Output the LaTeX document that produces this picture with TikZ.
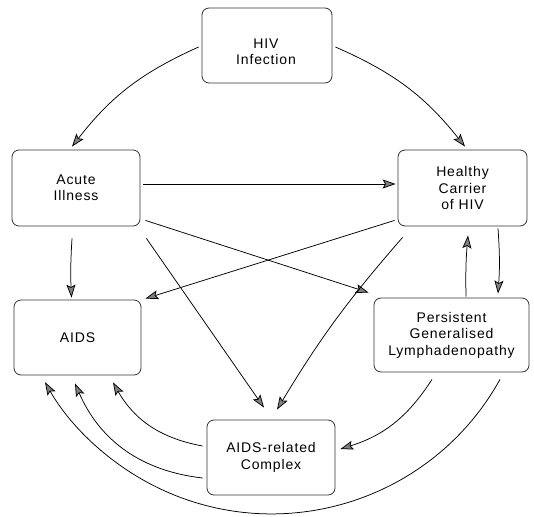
\documentclass[tikz,border=0pt]{standalone}
\usepackage{fontspec}
\setmainfont[LetterSpace=6]{Liberation Sans}
\usetikzlibrary{arrows.meta}
\begin{document}
\begin{tikzpicture}[x=1pt,y=1pt,
  stagebox/.style={draw=black!80, line width=0.8pt, rounded corners=7pt, align=center,
    font=\fontsize{14}{16.5}\selectfont, inner sep=0pt},
  txt/.style={align=center, font=\fontsize{14}{16.5}\selectfont, inner sep=0pt},
  flow/.style={line width=0.75pt, -{Stealth[length=13pt,width=9pt,inset=2.5pt,fill=black!50]}}
]
\useasboundingbox (0,0) rectangle (534,-516);
\fill[white] (0,0) rectangle (534,-516);

% stages
\node[stagebox, minimum width=130pt, minimum height=75pt] (hiv) at (267,-45.5) {};
\node[txt] (hivt) at (266,-52) {HIV\\Infection};
\node[stagebox, minimum width=128pt, minimum height=76pt] (acute) at (76,-188) {Acute\\Illness};
\node[stagebox, minimum width=129pt, minimum height=76pt] (healthy) at (462.5,-188) {Healthy\\Carrier\\of HIV};
\node[stagebox, minimum width=127pt, minimum height=75pt] (aids) at (77.5,-337.5) {AIDS};
\node[stagebox, minimum width=155pt, minimum height=74pt] (pgl) at (451.5,-335) {Persistent\\Generalised\\Lymphadenopathy};
\node[stagebox, minimum width=128pt, minimum height=75pt] (arc) at (271,-457.5) {AIDS-related\\Complex};

% connectors
\draw[flow] ([xshift=-3pt,yshift=-1.5pt]hiv.west) to[bend right=14] ([xshift=-4pt,yshift=3pt]acute.north);
\draw[flow] ([xshift=3pt,yshift=-1.5pt]hiv.east) to[bend left=14] ([xshift=2.5pt,yshift=3pt]healthy.north);
\draw[flow] ([xshift=3pt,yshift=4pt]acute.east) -- ([xshift=-2pt,yshift=4pt]healthy.west);
\draw[flow] ([xshift=5pt,yshift=6pt]acute.south east) -- ([xshift=-5pt,yshift=5pt]pgl.north west);
\draw[flow] ([xshift=-3pt,yshift=6pt]healthy.south west) -- ([xshift=4pt,yshift=1pt]aids.north east);
\draw[flow] ([xshift=6pt,yshift=-12pt]acute.south east) -- ([xshift=-7pt,yshift=12pt]arc.north);
\draw[flow] ([xshift=5pt,yshift=-11pt]healthy.south west) to[bend right=5] ([xshift=6pt,yshift=10pt]arc.north);
\draw[flow] ([xshift=-4pt,yshift=-12pt]acute.south) to[bend right=3] ([xshift=-6pt,yshift=2pt]aids.north);
\draw[flow] ([xshift=35.5pt,yshift=-2pt]healthy.south) to[bend left=4] ([xshift=46.5pt,yshift=4pt]pgl.north);
\draw[flow] ([xshift=14.5pt,yshift=1pt]pgl.north) to[bend left=3] ([xshift=5.5pt,yshift=-9pt]healthy.south);
\draw[flow] ([xshift=-19.5pt,yshift=-7pt]pgl.south) to[bend left=20] ([xshift=5pt,yshift=8.5pt]arc.east);
\draw[flow] ([xshift=48.5pt,yshift=-7pt]pgl.south) arc[start angle=-29, end angle=-150.3, radius=261pt];
\draw[flow] ([xshift=-4pt,yshift=11.5pt]arc.west) to[bend left=25] ([xshift=35.5pt,yshift=-7pt]aids.south);
\draw[flow] ([xshift=-4pt,yshift=-20.5pt]arc.west) to[bend left=30] ([xshift=-2.5pt,yshift=-8pt]aids.south);
\end{tikzpicture}
\end{document}
